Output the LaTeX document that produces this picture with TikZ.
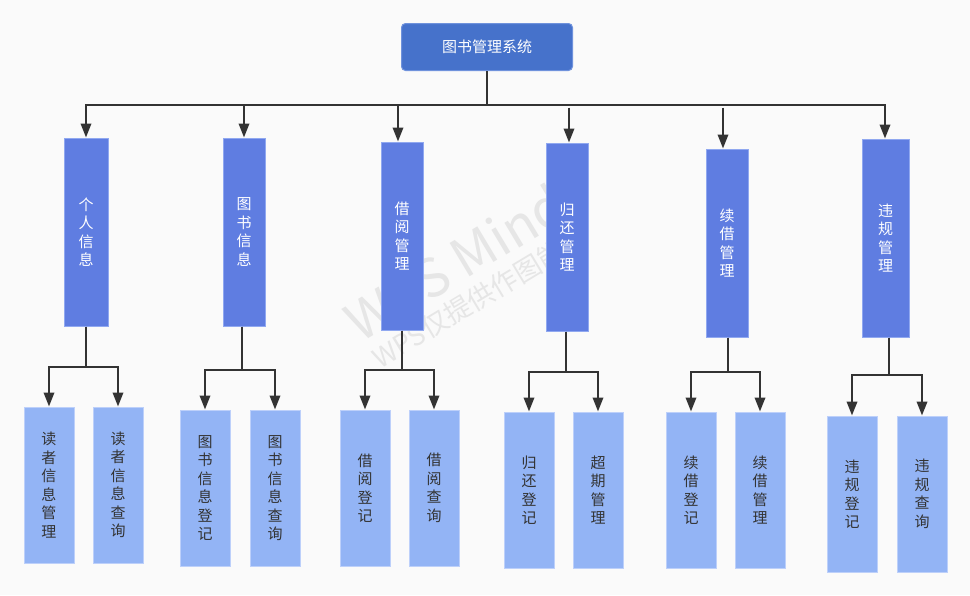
\documentclass[tikz,border=0pt]{standalone}
\usepackage{fontspec}
\setmainfont{Noto Sans CJK SC}
\usetikzlibrary{arrows.meta}
\definecolor{bg}{HTML}{FAFAFA}
\definecolor{rootc}{HTML}{4672CB}
\definecolor{rootb}{HTML}{6F92DC}
\definecolor{lonec}{HTML}{5F7DE1}
\definecolor{loneb}{HTML}{90A8F0}
\definecolor{ltwoc}{HTML}{93B4F5}
\definecolor{ltwob}{HTML}{BDD0FA}
\definecolor{linec}{HTML}{333333}
\definecolor{txtc}{HTML}{333333}
\definecolor{wmc}{HTML}{E6E6E6}
\begin{document}
\begin{tikzpicture}[x=1pt,y=-1pt,
  rootbox/.style={draw=rootb, line width=1pt, fill=rootc, rounded corners=4pt,
    minimum width=171pt, minimum height=47pt, inner sep=0pt, text=white,
    font=\fontsize{15}{18}\selectfont},
  lone/.style={draw=loneb, line width=1pt, fill=lonec, text=white, align=center,
    inner sep=0pt, minimum width=42pt, minimum height=188pt,
    font=\fontsize{15}{18.5}\selectfont},
  ltwo/.style={draw=ltwob, line width=1pt, fill=ltwoc, text=txtc, align=center,
    inner sep=0pt, minimum width=50pt, minimum height=156pt,
    font=\fontsize{15}{18.5}\selectfont},
  conn/.style={draw=linec, line width=2pt},
  arr/.style={conn, -{Triangle[length=14pt,width=10.5pt]}},
  wm/.style={text=wmc, inner sep=0pt}
]
\path[use as bounding box, fill=bg] (0,0) rectangle (970,595);

% watermark
\node[wm, rotate=31, font=\fontsize{53}{58}\selectfont] (wmA) at (455,262) {WPS Mind};
\node[wm, rotate=31, font=\fontsize{27}{30}\selectfont] (wmB) at (480,297) {WPS仅提供作图能力};

% root
\node[rootbox] (root) at (487,47) {图书管理系统};

% level 1
\node[lone, minimum width=44pt] (p1) at (86,232) {个\\人\\信\\息};
\node[lone] (p2) at (244,232) {图\\书\\信\\息};
\node[lone] (p3) at (402,236) {借\\阅\\管\\理};
\node[lone] (p4) at (567,237) {归\\还\\管\\理};
\node[lone] (p5) at (727,243) {续\\借\\管\\理};
\node[lone, minimum width=47pt, minimum height=198pt] (p6) at (885.5,238) {违\\规\\管\\理};

% level 2
\node[ltwo] (a1) at (49,485) {读\\者\\信\\息\\管\\理};
\node[ltwo] (a2) at (118,485) {读\\者\\信\\息\\查\\询};
\node[ltwo] (b1) at (205,488) {图\\书\\信\\息\\登\\记};
\node[ltwo] (b2) at (275,488) {图\\书\\信\\息\\查\\询};
\node[ltwo] (c1) at (365,488) {借\\阅\\登\\记};
\node[ltwo] (c2) at (434,488) {借\\阅\\查\\询};
\node[ltwo] (d1) at (529,490) {归\\还\\登\\记};
\node[ltwo] (d2) at (598,490) {超\\期\\管\\理};
\node[ltwo] (e1) at (691,490) {续\\借\\登\\记};
\node[ltwo] (e2) at (760,490) {续\\借\\管\\理};
\node[ltwo] (f1) at (852,494) {违\\规\\登\\记};
\node[ltwo] (f2) at (922,494) {违\\规\\查\\询};

% root to level 1
\draw[conn] (root.south) -- ++(0,34) coordinate (bus);
\draw[arr] (bus) -| (p1.north);
\draw[arr] (bus) -| (p2.north);
\draw[arr] (bus) -| ([xshift=-4pt]p3.north);
\draw[arr] (bus) -| ([xshift=-0.5pt]p6.north);
\coordinate (g4) at (569,107.5);
\coordinate (g5) at (723,107.5);
\draw[arr] (g4) -- (g4 |- p4.north);
\draw[arr] (g5) -- (g5 |- p5.north);

% level 1 to level 2
\draw[arr] (p1.south) -- ++(0,40) -| (a1.north);
\draw[arr] (p1.south) -- ++(0,40) -| (a2.north);
\draw[arr] ([xshift=-2pt]p2.south) -- ++(0,43) -| (b1.north);
\draw[arr] ([xshift=-2pt]p2.south) -- ++(0,43) -| (b2.north);
\draw[arr] (p3.south) -- ++(0,39) -| (c1.north);
\draw[arr] (p3.south) -- ++(0,39) -| (c2.north);
\draw[arr] ([xshift=-1pt]p4.south) -- ++(0,40) -| (d1.north);
\draw[arr] ([xshift=-1pt]p4.south) -- ++(0,40) -| (d2.north);
\draw[arr] ([xshift=1pt]p5.south) -- ++(0,34) -| (e1.north);
\draw[arr] ([xshift=1pt]p5.south) -- ++(0,34) -| (e2.north);
\draw[arr] ([xshift=3.5pt]p6.south) -- ++(0,37) -| (f1.north);
\draw[arr] ([xshift=3.5pt]p6.south) -- ++(0,37) -| (f2.north);
\end{tikzpicture}
\end{document}
